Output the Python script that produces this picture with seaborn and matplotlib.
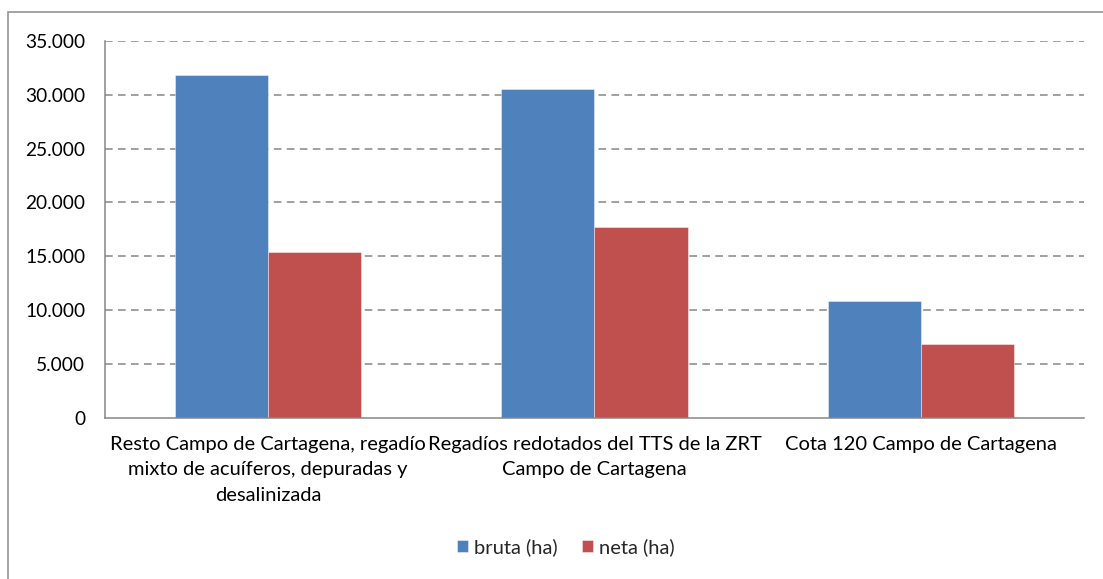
import numpy as np
import pandas as pd
import seaborn as sns
import matplotlib.pyplot as plt
from matplotlib.patches import Rectangle
from matplotlib.ticker import FuncFormatter, FixedLocator

categorias = [
    "Resto Campo de Cartagena, regadío\nmixto de acuíferos, depuradas y\ndesalinizada",
    "Regadíos redotados del TTS de la ZRT\nCampo de Cartagena",
    "Cota 120 Campo de Cartagena",
]
series = ["bruta (ha)", "neta (ha)"]
bruta = [31800, 30500, 10850]
neta = [15400, 17750, 6850]
y_ticks = [0, 5000, 10000, 15000, 20000, 25000, 30000, 35000]

sns.set_style("white")
plt.rcParams['font.family'] = ['Lato', 'DejaVu Sans']

df = pd.DataFrame({
    "categoria": categorias * 2,
    "serie": [series[0]] * 3 + [series[1]] * 3,
    "valor": bruta + neta,
})

gris = "#868686"
fig = plt.figure(figsize=(11.03, 5.79), dpi=100)
ax = fig.add_axes([105 / 1103, 1 - 417.7 / 579, (1084 - 105) / 1103, (417.7 - 41) / 579])

sns.barplot(data=df, x="categoria", y="valor", hue="serie",
            palette=["#4F81BD", "#C0504D"], width=0.5714, gap=0,
            saturation=1, linewidth=0.6, edgecolor="#ffffff80", ax=ax)

ax.set_xlim(-0.5, 2.5)
ax.set_ylim(0, 35000)
ax.set_yticks(y_ticks)
ax.yaxis.set_major_formatter(FuncFormatter(lambda v, p: f"{int(v):,}".replace(",", ".")))
ax.yaxis.grid(True, color=gris, linestyle=(0, (5, 3.5)), linewidth=1.1)
ax.get_ygridlines()[0].set_visible(False)
ax.set_axisbelow(True)
ax.set_xlabel("")
ax.set_ylabel("")

for s in ["top", "right"]:
    ax.spines[s].set_visible(False)
for s in ["left", "bottom"]:
    ax.spines[s].set_color(gris)
    ax.spines[s].set_linewidth(1.1)

ax.tick_params(axis="y", length=4.3, width=1.1, color=gris, pad=10, labelsize=13.8, labelcolor="black")
ax.tick_params(axis="x", which="major", length=0, pad=13, labelsize=14.5, labelcolor="black")
ax.xaxis.set_minor_locator(FixedLocator([-0.5, 0.5, 1.5, 2.5]))
ax.tick_params(axis="x", which="minor", length=4.3, width=1.1, color=gris)
for lbl in ax.get_xticklabels():
    lbl.set_multialignment("center")
    lbl.set_linespacing(1.6)

leg = ax.legend(loc="center", bbox_to_anchor=(566 / 1103, 32 / 579),
                bbox_transform=fig.transFigure, ncol=2, frameon=False,
                fontsize=14.5, handlelength=0.55, handleheight=0.55,
                handletextpad=0.3, columnspacing=1.2)

fig.add_artist(Rectangle((8 / 1103, -0.05), 1.1, 1 - 12 / 579 + 0.05,
                         transform=fig.transFigure, fill=False,
                         edgecolor="#8c8c8c", linewidth=1.1))

fig.savefig("out.png", dpi=100)
